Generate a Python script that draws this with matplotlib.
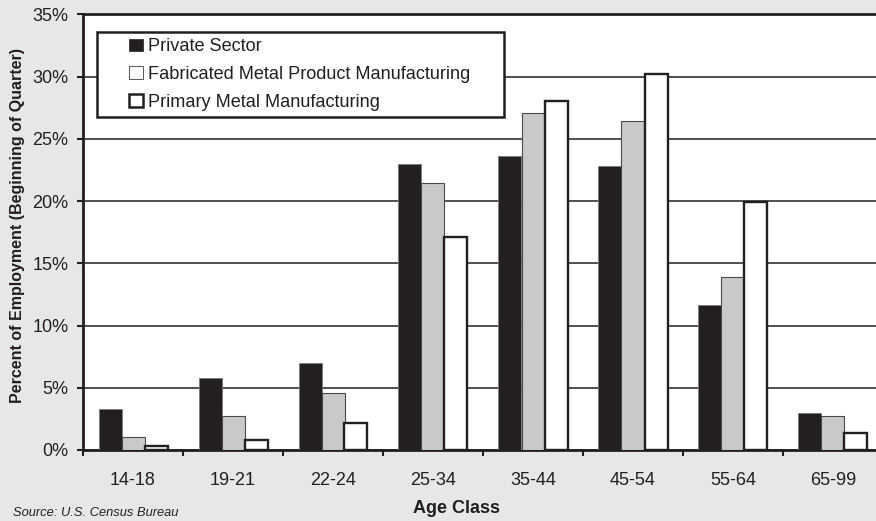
import numpy as np
import matplotlib
matplotlib.use('Agg')
import matplotlib.pyplot as plt
from matplotlib.patches import Patch, Rectangle
from matplotlib.ticker import FuncFormatter

plt.rcParams['font.family'] = ['Liberation Sans', 'DejaVu Sans']

# Data (percent of employment)
age_classes = ['14-18', '19-21', '22-24', '25-34', '35-44', '45-54', '55-64', '65-99']
private_sector = [3.27, 5.81, 7.02, 23.0, 23.63, 22.83, 11.63, 3.0]
fabricated_metal = [1.04, 2.73, 4.56, 21.46, 27.1, 26.47, 13.93, 2.73]
primary_metal = [0.32, 0.83, 2.2, 17.15, 28.08, 30.25, 19.9, 1.39]
series_names = ['Private Sector',
                'Fabricated Metal Product Manufacturing',
                'Primary Metal Manufacturing']

bg = '#e6e7e7'
dark = '#231f20'
gray = '#c8c9cb'

fig = plt.figure(figsize=(8.76, 5.21), dpi=100, facecolor=bg)
W, H = 876, 521
# axes runs past the right edge of the image, as in the reference
ax = fig.add_axes([83 / W, (H - 450) / H, 800 / W, (450 - 14.4) / H])
ax.set_facecolor('white')

x = np.arange(len(age_classes))
bw = 0.23
ax.bar(x - bw, private_sector, bw, color=dark, edgecolor='#7a7a7a', linewidth=0.6, zorder=3)
ax.bar(x, fabricated_metal, bw, color=gray, edgecolor='#4a4a4a', linewidth=0.8, zorder=3)
ax.bar(x + bw, primary_metal, bw, color='white', edgecolor=dark, linewidth=1.7, zorder=3)

ax.set_xlim(-0.5, len(age_classes) - 0.5)
ax.set_ylim(0, 35)
ax.set_yticks(np.arange(0, 36, 5))
ax.yaxis.set_major_formatter(FuncFormatter(lambda v, p: f'{v:.0f}%'))
ax.yaxis.grid(True, color=dark, linewidth=1.1)
ax.set_axisbelow(True)

# category boundaries get the tick marks, labels sit in between
ax.set_xticks(np.arange(-0.5, len(age_classes), 1.0))
ax.set_xticklabels([])
ax.set_xticks(x, minor=True)
ax.set_xticklabels(age_classes, minor=True)
ax.tick_params(axis='x', which='minor', length=0, pad=15.5, labelsize=13, labelcolor=dark)
ax.tick_params(axis='x', which='major', length=4.5, width=1.5, color=dark, direction='out')
ax.tick_params(axis='y', length=4.5, width=1.5, color=dark, pad=6, labelsize=13, labelcolor=dark)

for side in ['left', 'bottom', 'top']:
    ax.spines[side].set_color(dark)
    ax.spines[side].set_linewidth(2.0)
ax.spines['right'].set_visible(False)

ax.set_xlabel('Age Class', fontsize=13, fontweight='bold', color=dark)
ax.xaxis.set_label_coords(0.4675, -0.1148)
ax.set_ylabel('Percent of Employment (Beginning of Quarter)', fontsize=11.5,
              fontweight='bold', color=dark)
ax.yaxis.set_label_coords(-0.072, 0.515)

# legend box
ax.add_patch(Rectangle((0.0175, 0.765), 0.5087, 0.194, transform=ax.transAxes,
                       facecolor='white', edgecolor=dark, linewidth=1.8, zorder=4))
handles = [
    Patch(facecolor=dark, edgecolor=dark, linewidth=0.5),
    Patch(facecolor='white', edgecolor='#555555', linewidth=0.7),
    Patch(facecolor='white', edgecolor=dark, linewidth=1.8),
]
leg = ax.legend(handles, series_names, loc='upper left', bbox_to_anchor=(0.058, 0.945),
                frameon=False, fontsize=13.1, handlelength=0.72, handleheight=0.72,
                handletextpad=0.3, labelspacing=0.6, borderpad=0, borderaxespad=0)
leg.set_zorder(5)
for t in leg.get_texts():
    t.set_color(dark)

fig.text(13 / W, 1 - 507 / H, 'Source: U.S. Census Bureau', fontsize=9.3, style='italic',
         color=dark, va='top', ha='left')

fig.savefig('out.png', dpi=100, facecolor=bg)
